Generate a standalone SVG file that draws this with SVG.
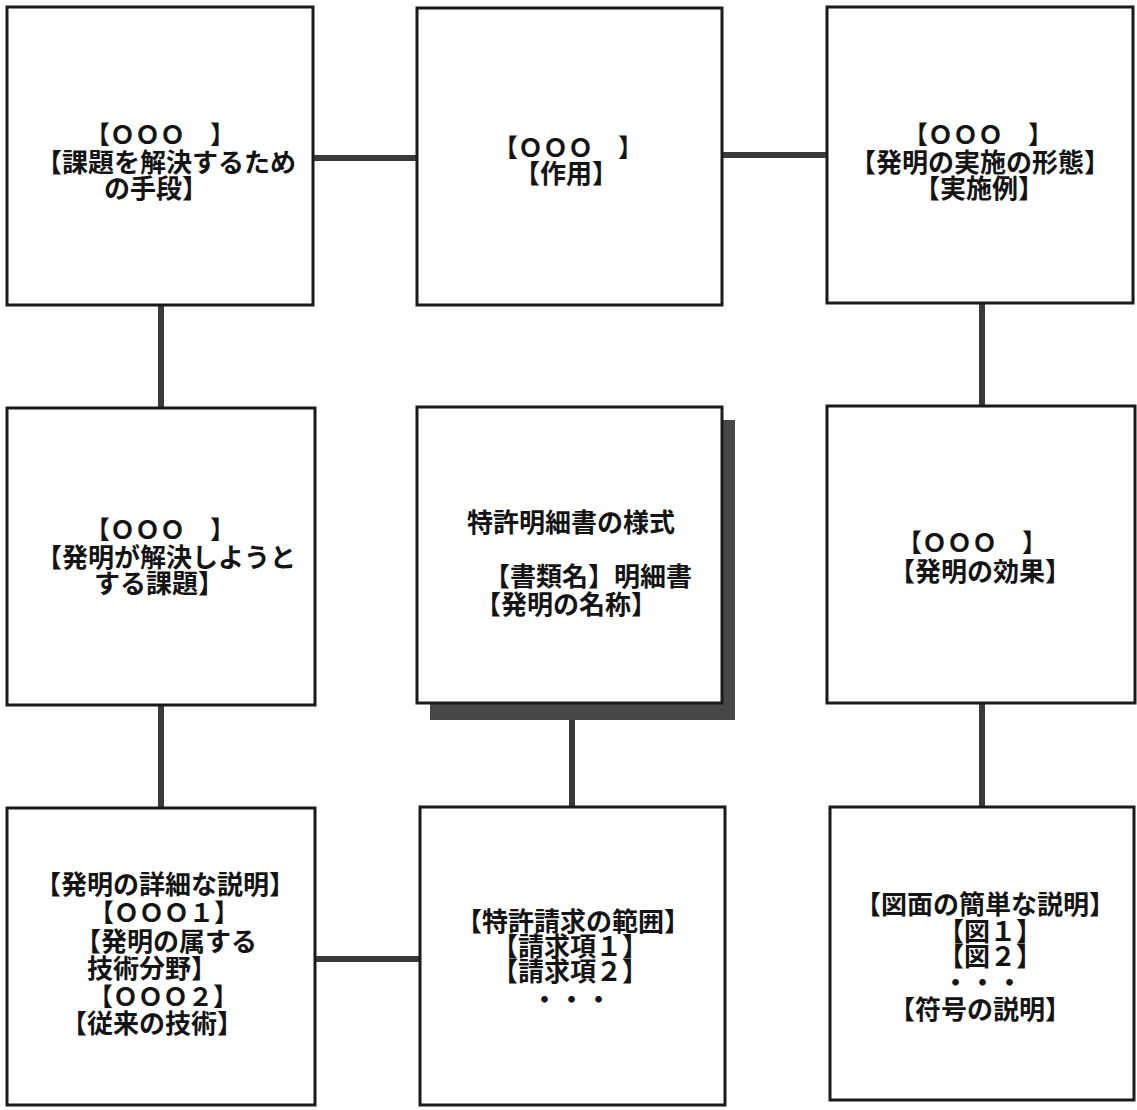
<svg xmlns="http://www.w3.org/2000/svg" width="1137" height="1110" viewBox="0 0 1137 1110">
<style>
.box{fill:#fff;stroke:#1a1a1a;stroke-width:3}
.conn{stroke:#3a3a3a;stroke-width:6;fill:none}
.shadow{fill:#474747}
text{font-family:"Liberation Serif","Noto Sans CJK JP","Noto Sans CJK SC",sans-serif;font-size:26px;font-weight:700;fill:#141414;text-anchor:middle}
.num{font-size:25px}
</style>
<rect width="1137" height="1110" fill="#fff"/>
<g id="connectors">
<line class="conn" x1="313" y1="158" x2="418" y2="158"/>
<line class="conn" x1="722" y1="155" x2="827" y2="155"/>
<line class="conn" x1="161" y1="305" x2="161" y2="408"/>
<line class="conn" x1="982" y1="303" x2="982" y2="406"/>
<line class="conn" x1="161" y1="705" x2="161" y2="808"/>
<line class="conn" x1="572" y1="703" x2="572" y2="807"/>
<line class="conn" x1="982" y1="703" x2="982" y2="807"/>
<line class="conn" x1="316" y1="959" x2="421" y2="959"/>
</g>
<g id="node-tl">
<rect class="box" x="7" y="7" width="306" height="298"/>
<text><tspan class="num" x="160" y="144">【ＯＯＯ　】</tspan><tspan x="166" y="172">【課題を解決するため</tspan><tspan x="156" y="198">の手段】</tspan></text>
</g>
<g id="node-tm">
<rect class="box" x="417" y="8" width="305" height="297"/>
<text><tspan class="num" x="568" y="157">【ＯＯＯ　】</tspan><tspan x="566" y="183">【作用】</tspan></text>
</g>
<g id="node-tr">
<rect class="box" x="827" y="7" width="306" height="296"/>
<text><tspan class="num" x="978" y="144">【ＯＯＯ　】</tspan><tspan x="980" y="172">【発明の実施の形態】</tspan><tspan x="979" y="198">【実施例】</tspan></text>
</g>
<g id="node-ml">
<rect class="box" x="7" y="408" width="308" height="297"/>
<text><tspan class="num" x="160" y="539">【ＯＯＯ　】</tspan><tspan x="166" y="567">【発明が解決しようと</tspan><tspan x="159" y="593">する課題】</tspan></text>
</g>
<g id="node-center">
<rect class="shadow" x="430" y="420" width="305" height="300"/>
<rect class="box" x="417" y="407" width="305" height="296"/>
<text><tspan x="571" y="532">特許明細書の様式</tspan><tspan x="588" y="586">【書類名】明細書</tspan><tspan x="566" y="614">【発明の名称】</tspan></text>
</g>
<g id="node-mr">
<rect class="box" x="827" y="406" width="308" height="297"/>
<text><tspan class="num" x="972" y="552">【ＯＯＯ　】</tspan><tspan x="980" y="581">【発明の効果】</tspan></text>
</g>
<g id="node-bl">
<rect class="box" x="7" y="808" width="308" height="297"/>
<text><tspan x="165" y="894">【発明の詳細な説明】</tspan><tspan class="num" x="164" y="922">【ＯＯＯ１】</tspan><tspan x="166" y="951">【発明の属する</tspan><tspan x="152" y="978">技術分野】</tspan><tspan class="num" x="163" y="1006">【ＯＯＯ２】</tspan><tspan x="152" y="1033">【従来の技術】</tspan></text>
</g>
<g id="node-bm">
<rect class="box" x="420" y="807" width="305" height="298"/>
<text><tspan x="573" y="931">【特許請求の範囲】</tspan><tspan x="570" y="956">【請求項１】</tspan><tspan x="570" y="981">【請求項２】</tspan><tspan x="572" y="1009" letter-spacing="1">・・・</tspan></text>
</g>
<g id="node-br">
<rect class="box" x="830" y="807" width="304" height="293"/>
<text><tspan x="985" y="914">【図面の簡単な説明】</tspan><tspan x="990" y="941">【図１】</tspan><tspan x="990" y="966">【図２】</tspan><tspan x="983" y="992" letter-spacing="1">・・・</tspan><tspan x="980" y="1019">【符号の説明】</tspan></text>
</g>
</svg>
